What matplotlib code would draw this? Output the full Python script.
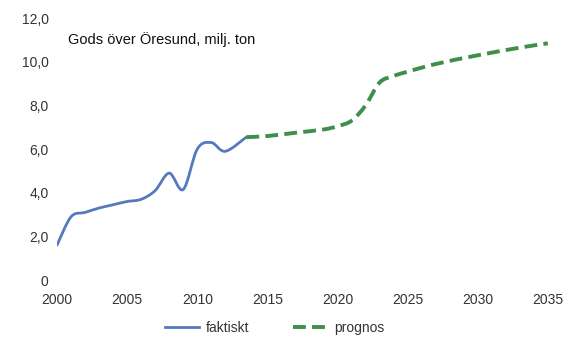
import numpy as np
import matplotlib.pyplot as plt
from matplotlib.path import Path
from matplotlib.patches import PathPatch
from matplotlib.lines import Line2D

plt.rcParams['font.family'] = ['Liberation Sans', 'DejaVu Sans']

# faktiskt (actual)
years_act = [2000, 2001, 2002, 2003, 2004, 2005, 2006, 2007, 2008, 2009, 2010, 2011, 2012, 2013.5]
vals_act = [1.6, 2.9, 3.1, 3.3, 3.45, 3.6, 3.7, 4.1, 4.9, 4.15, 6.0, 6.3, 5.9, 6.55]

# prognos (forecast)
years_prog = [2013.5, 2015, 2017, 2019, 2020, 2021, 2022, 2023, 2024, 2025, 2027, 2030, 2033, 2035]
vals_prog = [6.55, 6.6, 6.75, 6.9, 7.05, 7.3, 8.0, 9.05, 9.35, 9.55, 9.9, 10.3, 10.65, 10.85]

yticks = [0, 2, 4, 6, 8, 10, 12]
ytick_labels = ['0', '2,0', '4,0', '6,0', '8,0', '10,0', '12,0']
xticks = [2000, 2005, 2010, 2015, 2020, 2025, 2030, 2035]

BLUE = '#5479bd'
GREEN = '#3f8f4b'


def smooth_path(x, y):
    # excel-style smoothed line: catmull-rom segments as cubic beziers
    x = np.asarray(x, float)
    y = np.asarray(y, float)
    px = np.concatenate([[x[0]], x, [x[-1]]])
    py = np.concatenate([[y[0]], y, [y[-1]]])
    verts = [(x[0], y[0])]
    codes = [Path.MOVETO]
    for i in range(1, len(px) - 2):
        c1 = (px[i] + (px[i + 1] - px[i - 1]) / 6, py[i] + (py[i + 1] - py[i - 1]) / 6)
        c2 = (px[i + 1] - (px[i + 2] - px[i]) / 6, py[i + 1] - (py[i + 2] - py[i]) / 6)
        verts += [c1, c2, (px[i + 1], py[i + 1])]
        codes += [Path.CURVE4] * 3
    return Path(verts, codes)


fig = plt.figure(figsize=(5.72, 3.37), dpi=100)
ax = fig.add_axes([0.0997, 0.169, 0.858, 0.777])

ax.add_patch(PathPatch(smooth_path(years_act, vals_act), fill=False, edgecolor=BLUE,
                       lw=2.0, capstyle='round', joinstyle='round'))
ax.add_patch(PathPatch(smooth_path(years_prog, vals_prog), fill=False, edgecolor=GREEN,
                       lw=2.8, linestyle=(0, (3.3, 1.6))))

ax.set_xlim(2000, 2035)
ax.set_ylim(0, 12)
ax.set_xticks(xticks)
ax.set_yticks(yticks)
ax.set_yticklabels(ytick_labels)
ax.tick_params(length=0, labelsize=10, colors='#333333', pad=6)
ax.tick_params(axis='x', pad=9)
for s in ax.spines.values():
    s.set_visible(False)

ax.text(2000.8, 10.8, 'Gods över Öresund, milj. ton', fontsize=10.5, color='#111111')

handles = [Line2D([], [], color=BLUE, lw=2.0),
           Line2D([], [], color=GREEN, lw=2.8, linestyle=(0, (3.3, 1.6)))]
fig.legend(handles, ['faktiskt', 'prognos'], loc='lower center', bbox_to_anchor=(0.48, -0.03),
           ncol=2, frameon=False, fontsize=10, handlelength=2.4, handletextpad=0.5,
           columnspacing=3.2, labelcolor='#333333')

fig.savefig('out.png', dpi=100)
